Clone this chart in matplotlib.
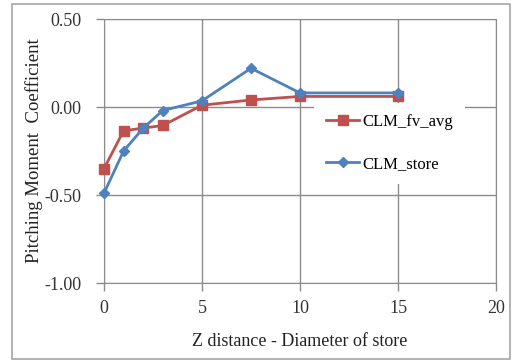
import numpy as np
import matplotlib.pyplot as plt
from matplotlib.patches import Rectangle

# datos
z = [0, 1, 2, 3, 5, 7.5, 10, 15]
clm_fv_avg = [-0.35, -0.135, -0.12, -0.105, 0.01, 0.04, 0.06, 0.06]
clm_store = [-0.49, -0.25, -0.12, -0.02, 0.035, 0.22, 0.08, 0.08]

xticks = [0, 5, 10, 15, 20]
yticks = [-1.0, -0.5, 0.0, 0.5]

plt.rcParams['font.family'] = ['Liberation Serif', 'DejaVu Serif']

fig = plt.figure(figsize=(5.15, 3.62), dpi=100)
ax = fig.add_axes([104/515, 1-283/362, (496-104)/515, (283-19)/362])

# borde exterior del area del grafico
fig.patches.append(Rectangle((12/515, 3/362), (510-12)/515, (358-3)/362,
                             transform=fig.transFigure, fill=False,
                             edgecolor='#a6a6a6', linewidth=1.2))

ax.plot(z, clm_fv_avg, color='#C0504D', marker='s', markersize=7,
        linewidth=2, label='CLM_fv_avg', zorder=3, clip_on=False)
ax.plot(z, clm_store, color='#4F81BD', marker='D', markersize=5,
        linewidth=2, label='CLM_store', zorder=4, clip_on=False)

ax.set_xlim(0, 20)
ax.set_ylim(-1.0, 0.5)
ax.set_xticks(xticks)
ax.set_yticks(yticks)
ax.set_yticklabels(['%.2f' % v for v in yticks])
ax.grid(True, color='#8c8c8c', linewidth=1)
ax.set_axisbelow(True)
for s in ax.spines.values():
    s.set_color('#8c8c8c')
ax.tick_params(colors='#8c8c8c', labelcolor='#333333', labelsize=13,
               length=6, width=1)
ax.tick_params(axis='y', pad=10)
ax.tick_params(axis='x', pad=6)

ax.set_xlabel('Z distance - Diameter of store', fontsize=13, color='#222222',
              labelpad=12)
ax.set_ylabel('Pitching Moment  Coefficient', fontsize=13.5, color='#222222',
              labelpad=1)

leg = ax.legend(loc='upper left', bbox_to_anchor=(0.515, 0.715), frameon=True,
                fontsize=12, handlelength=2.0, handletextpad=0.2,
                labelspacing=1.55, borderpad=0.7)
leg.get_frame().set_facecolor('white')
leg.get_frame().set_edgecolor('none')
leg.get_frame().set_alpha(1)
leg.get_frame().set_boxstyle('square', pad=0)

fig.savefig('out.png', dpi=100)
